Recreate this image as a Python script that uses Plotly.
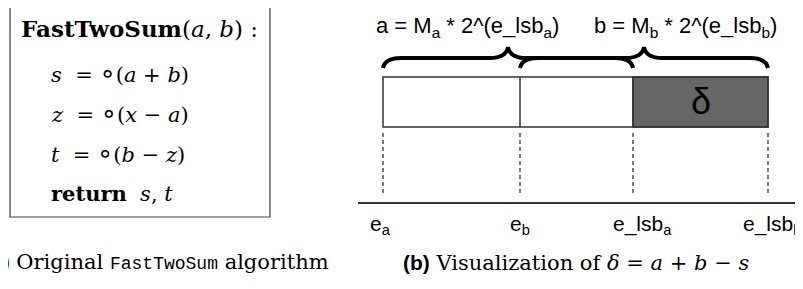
import plotly.graph_objects as go

# ---------------- data ----------------
RING = "<span style='font-family:DejaVu Sans;font-size:26px'>∘</span>"
algo_title = "<b>FastTwoSum</b>(<i>a</i>, <i>b</i>) :"
algo_lines = [
    f"<i>s</i>  = {RING}(<i>a</i> + <i>b</i>)",
    f"<i>z</i>  = {RING}(<i>x</i> − <i>a</i>)",
    f"<i>t</i>  = {RING}(<i>b</i> − <i>z</i>)",
    "<b>return</b>  <i>s</i>, <i>t</i>",
]
caption_a = ("<span style='font-family:Liberation Sans'><b>(a)</b></span> Original "
             "<span style='font-family:Liberation Mono;font-size:18px'>FastTwoSum</span> algorithm")
caption_b = ("<span style='font-family:Liberation Sans'><b>(b)</b></span> Visualization of "
             "<i>δ</i> = <i>a</i> + <i>b</i> − <i>s</i>")

exp_labels = ["e<sub>a</sub>", "e<sub>b</sub>", "e_lsb<sub>a</sub>", "e_lsb<sub>b</sub>"]
exp_pos = [383, 520, 633, 768]          # bit positions along the exponent axis
brace_labels = ["a = M<sub>a</sub> * 2^(e_lsb<sub>a</sub>)",
                "b = M<sub>b</sub> * 2^(e_lsb<sub>b</sub>)"]
brace_spans = [(0, 2), (1, 3)]          # indices into exp_pos
delta_label = "δ"

# ---------------- figure ----------------
# page body has an 8px margin: shift the coordinate frame so that x,y are window pixels
OFF = 8
W, H = 803, 289
fig = go.Figure()
fig.update_layout(
    width=W - OFF, height=H - OFF, margin=dict(l=0, r=0, t=0, b=0),
    paper_bgcolor="white", plot_bgcolor="white", showlegend=False,
    xaxis=dict(range=[OFF, W], visible=False, fixedrange=True),
    yaxis=dict(range=[H, OFF], visible=False, fixedrange=True),
)

SERIF = "DejaVu Serif, Liberation Serif, serif"
SANS = "Liberation Sans, Arial, sans-serif"

# --- left panel: algorithm box ---
fig.add_shape(type="rect", x0=10, y0=5, x1=270, y1=217,
              line=dict(color="#444", width=1.2))
fig.add_annotation(x=19, y=28, text=algo_title, showarrow=False, xanchor="left",
                   yanchor="middle", font=dict(family=SERIF, size=23, color="black"))
line_y = [73, 113, 153, 193]
for t, yy in zip(algo_lines, line_y):
    fig.add_annotation(x=49, y=yy, text=t, showarrow=False, xanchor="left",
                       yanchor="middle", font=dict(family=SERIF, size=21, color="black"))
fig.add_annotation(x=331, y=262, text=caption_a, showarrow=False, xanchor="right",
                   yanchor="middle", font=dict(family=SERIF, size=21, color="black"))

# --- right panel ---
y_top, y_bot = 77, 127
x_lo, x_hi = exp_pos[0], exp_pos[3]
fig.add_shape(type="rect", x0=exp_pos[2], y0=y_top, x1=exp_pos[3], y1=y_bot,
              fillcolor="#666666", line=dict(color="#333", width=1.5), layer="below")
fig.add_shape(type="rect", x0=x_lo, y0=y_top, x1=x_hi, y1=y_bot,
              line=dict(color="#333", width=1.5))
for xp in exp_pos[1:3]:
    fig.add_shape(type="line", x0=xp, y0=y_top, x1=xp, y1=y_bot,
                  line=dict(color="#333", width=1.5))
fig.add_annotation(x=(exp_pos[2] + exp_pos[3]) / 2, y=101, text=delta_label, showarrow=False,
                   font=dict(family=SANS, size=36, color="black"))

# dashed guides
for xp in exp_pos:
    fig.add_shape(type="line", x0=xp, y0=133, x1=xp, y1=193,
                  line=dict(color="#333", width=1.3, dash="4px,3px"))
# axis
fig.add_shape(type="line", x0=358, y0=203, x1=797, y1=203, line=dict(color="#333", width=2))
label_offsets = [-3, 0, 9, 4]
for xp, lab, off in zip(exp_pos, exp_labels, label_offsets):
    fig.add_annotation(x=xp + off, y=225, text=lab, showarrow=False, xanchor="center",
                       yanchor="middle", font=dict(family=SANS, size=21, color="black"))

# braces
def brace_path(x0, x1, yb=68, ym=58, yt=47):
    xm = (x0 + x1) / 2
    q = 18
    return (f"M {x0},{yb} Q {x0+2},{ym} {x0+q},{ym} L {xm-q},{ym} "
            f"Q {xm-2},{ym} {xm},{yt} Q {xm+2},{ym} {xm+q},{ym} "
            f"L {x1-q},{ym} Q {x1-2},{ym} {x1},{yb}")

label_centers = [467, 685]
for (i0, i1), lab, cx in zip(brace_spans, brace_labels, label_centers):
    x0, x1 = exp_pos[i0], exp_pos[i1]
    fig.add_shape(type="path", path=brace_path(x0, x1), line=dict(color="black", width=4))
    fig.add_annotation(x=cx, y=27, text=lab, showarrow=False,
                       xanchor="center", yanchor="middle",
                       font=dict(family=SANS, size=22, color="black"))

fig.add_annotation(x=576, y=263, text=caption_b, showarrow=False, xanchor="center",
                   yanchor="middle", font=dict(family=SERIF, size=21, color="black"))

fig.write_html("out.html")
